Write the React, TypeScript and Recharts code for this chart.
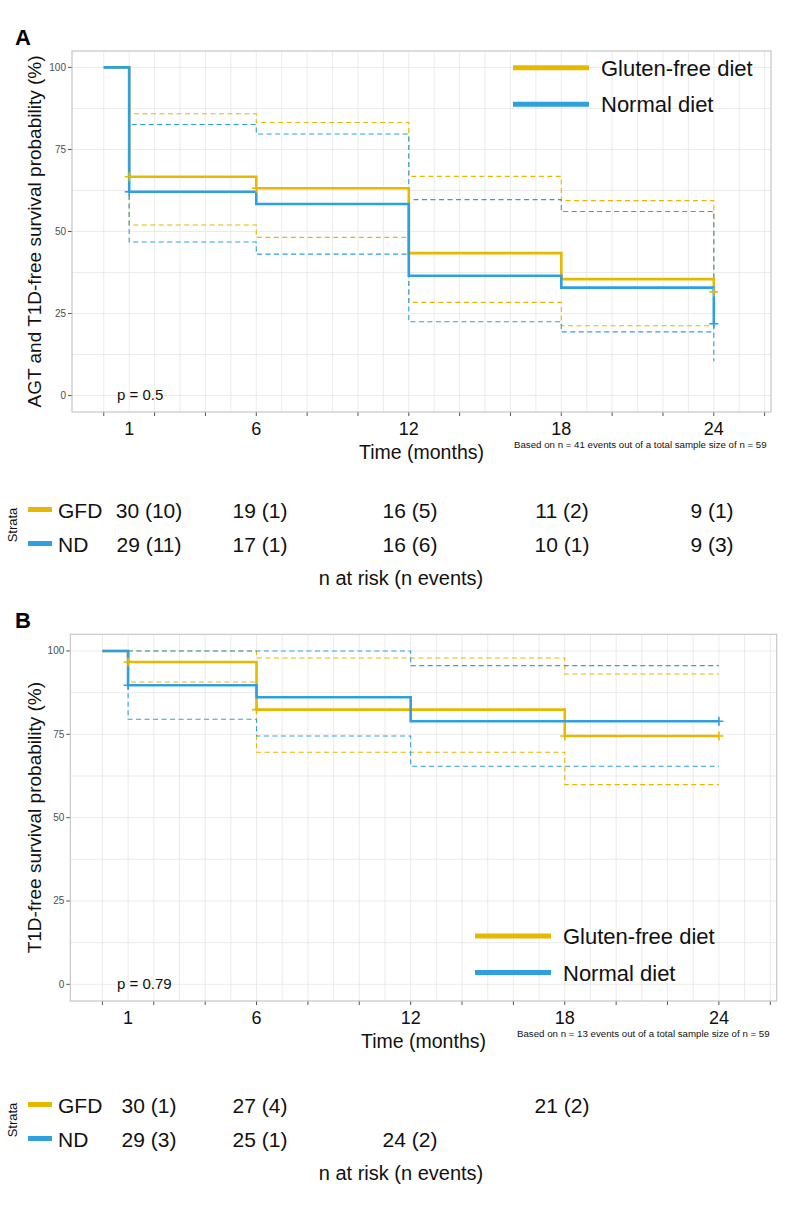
import React from 'react';
import { ComposedChart, Line, Scatter, XAxis, YAxis, CartesianGrid } from 'recharts';

// Palette and type
const GOLD = '#E7B800';
const BLUE = '#2E9FDF';
const FONT = '"Liberation Sans", Arial, Helvetica, sans-serif';

// ---------- Panel A: AGT and T1D-free survival ----------
const monthsA = [0, 1, 6, 12, 18, 24];
const gfdSurvA = [100, 66.7, 63.2, 43.4, 35.5, 31.6];
const gfdUpperA = [100, 85.9, 83.2, 66.8, 59.4, 21.3];
const gfdLowerA = [100, 52.0, 48.2, 28.4, 21.3, 21.3];
const ndSurvA = [100, 62.1, 58.4, 36.5, 32.9, 21.9];
const ndUpperA = [100, 82.6, 79.7, 59.7, 56.1, 19.4];
const ndLowerA = [100, 46.8, 43.1, 22.5, 19.4, 10.5];
const gfdCensoredA = [1, 6, 24];
const ndCensoredA = [1, 24];

// ---------- Panel B: T1D-free survival ----------
const monthsB = [0, 1, 6, 12, 18, 24];
const gfdSurvB = [100, 96.7, 82.4, 82.4, 74.5, 74.5];
const gfdUpperB = [100, 100, 97.9, 97.9, 93.1, 93.1];
const gfdLowerB = [100, 90.7, 69.6, 69.6, 59.9, 59.9];
const ndSurvB = [100, 89.7, 86.1, 78.9, 78.9, 78.9];
const ndUpperB = [100, 100, 100, 95.6, 95.6, 95.6];
const ndLowerB = [100, 79.5, 74.5, 65.4, 65.4, 65.4];
const gfdCensoredB = [1, 6, 18, 24];
const ndCensoredB = [1, 24];

// ---------- Risk tables: n at risk (n events) ----------
const gfdAtRiskA = [30, 19, 16, 11, 9];
const gfdEventsA = [10, 1, 5, 2, 1];
const ndAtRiskA = [29, 17, 16, 10, 9];
const ndEventsA = [11, 1, 6, 1, 3];

const gfdAtRiskB = [30, 27, null, 21, null];
const gfdEventsB = [1, 4, null, 2, null];
const ndAtRiskB = [29, 25, 24, null, null];
const ndEventsB = [3, 1, 2, null, null];

// ---------- Axes ----------
const xLabelMonths = [1, 6, 12, 18, 24];
const xGridMonths = Array.from({ length: 27 }, (_, i) => i); // 0..26
const yGridValues = [0, 12.5, 25, 37.5, 50, 62.5, 75, 87.5, 100];
const X_DOMAIN: [number, number] = [-1.25, 26.25];
const Y_DOMAIN: [number, number] = [-5, 105];

// ---------- Layout ----------
const W = 800;
const H = 1213;
const CHART_H = 470;
const Y_AXIS_W = 40;
const X_AXIS_H = 30;
const panelA = { top: 0, left: 72, plotTop: 51, right: 771, bottom: 412 };
const panelB = { top: 590, left: 70.3, plotTop: 634.3, right: 776.7, bottom: 1001 };
const riskColX = [149, 260, 410, 562, 712];

const toSeries = (t: number[], s: number[]) => t.map((m, i) => ({ t: m, s: s[i] }));
const censorPoints = (t: number[], s: number[], at: number[]) =>
  at.map((m) => {
    let v = s[0];
    t.forEach((tm, i) => {
      if (tm <= m) v = s[i];
    });
    return { t: m, s: v };
  });

const XTick = (props: any) => {
  const { x, y, payload } = props;
  const v = payload.value;
  return (
    <g>
      {v % 2 === 0 && <line x1={x} x2={x} y1={y - 4} y2={y} stroke="#555" strokeWidth={1} />}
      {xLabelMonths.includes(v) && (
        <text x={x} y={y + 18.5} textAnchor="middle" fontSize={18} fill="#111" fontFamily={FONT}>
          {v}
        </text>
      )}
    </g>
  );
};

const YTick = (props: any) => {
  const { x, y, payload } = props;
  const v = payload.value;
  if (v % 25 !== 0) return <g />;
  return (
    <g>
      <line x1={x} x2={x + 4} y1={y} y2={y} stroke="#555" strokeWidth={1} />
      <text x={x - 2} y={y} dy="0.35em" textAnchor="end" fontSize={10} fill="#4d4d4d" fontFamily={FONT}>
        {v}
      </text>
    </g>
  );
};

const makePlus = (color: string) => (props: any) => {
  const { cx, cy } = props;
  return (
    <g>
      <line x1={cx - 4.5} x2={cx + 4.5} y1={cy} y2={cy} stroke={color} strokeWidth={1.6} />
      <line x1={cx} x2={cx} y1={cy - 4.5} y2={cy + 4.5} stroke={color} strokeWidth={1.6} />
    </g>
  );
};
const GoldPlus = makePlus(GOLD);
const BluePlus = makePlus(BLUE);

type Curves = {
  months: number[];
  gfd: number[];
  gfdUp: number[];
  gfdLo: number[];
  nd: number[];
  ndUp: number[];
  ndLo: number[];
  gfdCens: number[];
  ndCens: number[];
};

const SurvPanel = ({ panel, c }: { panel: typeof panelA; c: Curves }) => {
  const margin = {
    top: panel.plotTop - panel.top,
    left: panel.left - Y_AXIS_W,
    right: W - panel.right,
    bottom: CHART_H - (panel.bottom - panel.top) - X_AXIS_H,
  };
  const dash = '5 3.5';
  return (
    <div style={{ position: 'absolute', left: 0, top: panel.top }}>
      <ComposedChart width={W} height={CHART_H} margin={margin}>
        <CartesianGrid stroke="#e6e6e6" strokeWidth={0.8} />
        <XAxis
          type="number"
          dataKey="t"
          domain={X_DOMAIN}
          allowDataOverflow
          ticks={xGridMonths}
          interval={0}
          height={X_AXIS_H}
          axisLine={false}
          tickLine={false}
          tickSize={4}
          tickMargin={0}
          tick={<XTick />}
        />
        <YAxis
          type="number"
          domain={Y_DOMAIN}
          allowDataOverflow
          ticks={yGridValues}
          interval={0}
          width={Y_AXIS_W}
          axisLine={false}
          tickLine={false}
          tickSize={4}
          tickMargin={0}
          tick={<YTick />}
        />
        <Line data={toSeries(c.months, c.gfdUp)} dataKey="s" type="stepAfter" stroke={GOLD} strokeWidth={1.1} strokeDasharray={dash} dot={false} isAnimationActive={false} />
        <Line data={toSeries(c.months, c.gfdLo)} dataKey="s" type="stepAfter" stroke={GOLD} strokeWidth={1.1} strokeDasharray={dash} dot={false} isAnimationActive={false} />
        <Line data={toSeries(c.months, c.ndUp)} dataKey="s" type="stepAfter" stroke={BLUE} strokeWidth={1.1} strokeDasharray={dash} dot={false} isAnimationActive={false} />
        <Line data={toSeries(c.months, c.ndLo)} dataKey="s" type="stepAfter" stroke={BLUE} strokeWidth={1.1} strokeDasharray={dash} dot={false} isAnimationActive={false} />
        <Line data={toSeries(c.months, c.gfd)} dataKey="s" type="stepAfter" stroke={GOLD} strokeWidth={2.6} dot={false} isAnimationActive={false} />
        <Line data={toSeries(c.months, c.nd)} dataKey="s" type="stepAfter" stroke={BLUE} strokeWidth={2.6} dot={false} isAnimationActive={false} />
        <Scatter data={censorPoints(c.months, c.gfd, c.gfdCens)} dataKey="s" shape={<GoldPlus />} isAnimationActive={false} />
        <Scatter data={censorPoints(c.months, c.nd, c.ndCens)} dataKey="s" shape={<BluePlus />} isAnimationActive={false} />
      </ComposedChart>
    </div>
  );
};

const riskLabel = (n: number | null, e: number | null) => (n === null ? '' : `${n} (${e})`);

const RiskTable = ({ y0, gfdN, gfdE, ndN, ndE }: any) => (
  <g fontFamily={FONT}>
    <text transform={`translate(${17}, ${y0 + 7}) rotate(-90)`} textAnchor="middle" fontSize={13} fill="#111">
      Strata
    </text>
    <rect x={28} y={y0 - 11} width={24} height={5} fill={GOLD} />
    <rect x={28} y={y0 + 23} width={24} height={5} fill={BLUE} />
    <text x={58} y={y0} fontSize={21} fill="#111">GFD</text>
    <text x={58} y={y0 + 34} fontSize={21} fill="#111">ND</text>
    {riskColX.map((cx, i) => (
      <text key={`g${i}`} x={cx} y={y0} fontSize={21} fill="#111" textAnchor="middle">
        {riskLabel(gfdN[i], gfdE[i])}
      </text>
    ))}
    {riskColX.map((cx, i) => (
      <text key={`n${i}`} x={cx} y={y0 + 34} fontSize={21} fill="#111" textAnchor="middle">
        {riskLabel(ndN[i], ndE[i])}
      </text>
    ))}
    <text x={401} y={y0 + 67} fontSize={20} fill="#111" textAnchor="middle">
      n at risk (n events)
    </text>
  </g>
);

const Legend = ({ x, y }: { x: number; y: number }) => (
  <g fontFamily={FONT}>
    <line x1={x} x2={x + 76} y1={y} y2={y} stroke={GOLD} strokeWidth={5} />
    <text x={x + 88} y={y + 8} fontSize={22} fill="#111">Gluten-free diet</text>
    <line x1={x} x2={x + 76} y1={y + 36.5} y2={y + 36.5} stroke={BLUE} strokeWidth={5} />
    <text x={x + 88} y={y + 44.5} fontSize={22} fill="#111">Normal diet</text>
  </g>
);

const PanelText = ({ panel, label, yTitle, pText, foot, footX }: any) => {
  const cx = (panel.left + panel.right) / 2;
  const cy = (panel.plotTop + panel.bottom) / 2;
  return (
    <g fontFamily={FONT}>
      <rect x={panel.left} y={panel.plotTop} width={panel.right - panel.left} height={panel.bottom - panel.plotTop} fill="none" stroke="#c4c4c4" strokeWidth={1} />
      <text x={15} y={panel.plotTop - 6} fontSize={22} fontWeight="bold" fill="#000">{label}</text>
      <text transform={`translate(41, ${cy}) rotate(-90)`} textAnchor="middle" fontSize={19} fill="#111">{yTitle}</text>
      <text x={cx} y={panel.bottom + 47} textAnchor="middle" fontSize={19.5} fill="#111">Time (months)</text>
      <text x={footX} y={panel.bottom + 35.5} fontSize={9.7} fill="#111">{foot}</text>
      <text x={117} y={panel.bottom - 12} fontSize={15} fill="#111">{pText}</text>
    </g>
  );
};

export default function App() {
  const curvesA: Curves = {
    months: monthsA, gfd: gfdSurvA, gfdUp: gfdUpperA, gfdLo: gfdLowerA,
    nd: ndSurvA, ndUp: ndUpperA, ndLo: ndLowerA, gfdCens: gfdCensoredA, ndCens: ndCensoredA,
  };
  const curvesB: Curves = {
    months: monthsB, gfd: gfdSurvB, gfdUp: gfdUpperB, gfdLo: gfdLowerB,
    nd: ndSurvB, ndUp: ndUpperB, ndLo: ndLowerB, gfdCens: gfdCensoredB, ndCens: ndCensoredB,
  };
  return (
    <div style={{ position: 'absolute', left: 0, top: 0, width: W, height: H, background: '#fff', fontFamily: FONT }}>
      <SurvPanel panel={panelA} c={curvesA} />
      <SurvPanel panel={panelB} c={curvesB} />
      <svg width={W} height={H} style={{ position: 'absolute', left: 0, top: 0, pointerEvents: 'none' }}>
        <PanelText
          panel={panelA}
          label="A"
          yTitle="AGT and T1D-free survival probability (%)"
          pText="p = 0.5"
          foot="Based on n = 41 events out of a total sample size of n = 59"
          footX={514}
        />
        <Legend x={513} y={67.7} />
        <RiskTable y0={518} gfdN={gfdAtRiskA} gfdE={gfdEventsA} ndN={ndAtRiskA} ndE={ndEventsA} />

        <PanelText
          panel={panelB}
          label="B"
          yTitle="T1D-free survival probability (%)"
          pText="p = 0.79"
          foot="Based on n = 13 events out of a total sample size of n = 59"
          footX={517}
        />
        <Legend x={475} y={936} />
        <RiskTable y0={1113} gfdN={gfdAtRiskB} gfdE={gfdEventsB} ndN={ndAtRiskB} ndE={ndEventsB} />
      </svg>
    </div>
  );
}
